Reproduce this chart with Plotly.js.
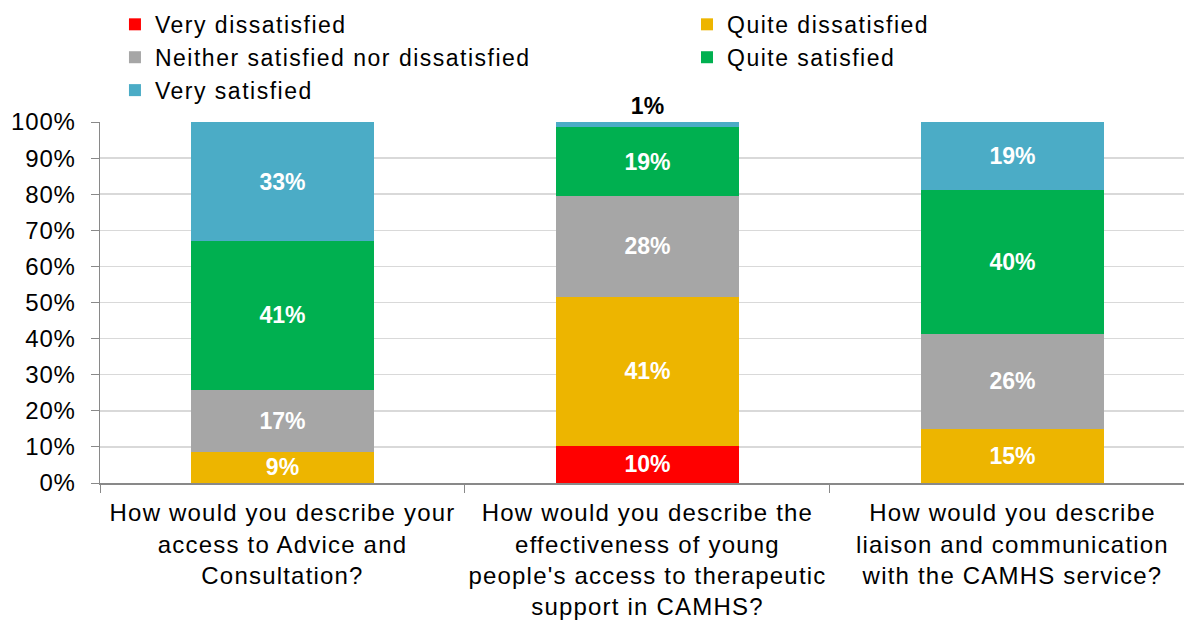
<!DOCTYPE html>
<html>
<head>
<meta charset="utf-8">
<script src="https://cdn.plot.ly/plotly-3.0.1.min.js"></script>
<style>
html,body{margin:0;padding:0;background:#fff;}
#chart{width:1184px;height:620px;}
#chart .xtick text{letter-spacing:1.2px;}
#chart .ytick text{letter-spacing:0.8px;}
#chart .legendtext, #chart .infolayer text{letter-spacing:1.5px;}
#chart g.scrollbox, #chart .infolayer g{clip-path:none !important;}
</style>
</head>
<body>
<div id="chart"></div>
<script>
var categories = [
  "How would you describe your<br>access to Advice and<br>Consultation?",
  "How would you describe the<br>effectiveness of young<br>people's access to therapeutic<br>support in CAMHS?",
  "How would you describe<br>liaison and communication<br>with the CAMHS service?"
];
var veryDissatisfied  = [0, 10.3, 0];
var quiteDissatisfied = [8.6, 41.2, 15.0];
var neither           = [17.3, 28.1, 26.3];
var quiteSatisfied    = [41.1, 18.9, 39.8];
var verySatisfied     = [33.0, 1.4, 18.9];

var seriesNames  = ["Very dissatisfied", "Quite dissatisfied", "Neither satisfied nor dissatisfied", "Quite satisfied", "Very satisfied"];
var seriesValues = [veryDissatisfied, quiteDissatisfied, neither, quiteSatisfied, verySatisfied];
var seriesColors = ["#FF0000", "#EDB500", "#A6A6A6", "#00B050", "#4BACC6"];
var seriesLegend = ["legend", "legend2", "legend", "legend2", "legend"];

var FONT = "Liberation Sans, Arial, sans-serif";

var traces = seriesValues.map(function(vals, i){
  var small = vals.map(function(v){ return v > 0 && v < 5; });
  return {
    type: "bar",
    name: seriesNames[i],
    legend: seriesLegend[i],
    x: categories,
    y: vals,
    marker: {color: seriesColors[i], line: {width: 0}},
    text: vals.map(function(v){ return v > 0 ? Math.round(v) + "%" : ""; }),
    textposition: small.map(function(s){ return s ? "outside" : "inside"; }),
    insidetextanchor: "middle",
    textangle: 0,
    constraintext: "none",
    insidetextfont: {family: FONT, size: 23, color: "#FFFFFF", weight: "bold"},
    outsidetextfont: {family: FONT, size: 23, color: "#000000", weight: "bold"},
    cliponaxis: false,
    hoverinfo: "skip"
  };
});

var legendBase = {
  orientation: "v",
  yanchor: "top",
  y: 1.33,
  xanchor: "left",
  traceorder: "normal",
  bgcolor: "rgba(0,0,0,0)",
  font: {family: FONT, size: 23, color: "#000000"},
  itemclick: false, itemdoubleclick: false
};

var layout = {
  width: 1184, height: 620,
  margin: {l: 100, r: 0, t: 122, b: 137, pad: 0},
  paper_bgcolor: "#FFFFFF",
  plot_bgcolor: "#FFFFFF",
  barmode: "stack",
  bargap: 0.5,
  showlegend: true,
  legend: Object.assign({}, legendBase, {x: 0.0138}),
  legend2: Object.assign({}, legendBase, {x: 0.5415}),
  xaxis: {
    type: "category",
    range: [-0.5, 2.47],
    tickson: "boundaries",
    ticks: "outside",
    ticklen: 8,
    tickcolor: "#898989",
    showline: true,
    linecolor: "#898989",
    linewidth: 1.5,
    showgrid: false,
    tickfont: {family: FONT, size: 24, color: "#000000"},
    ticklabelstandoff: 8
  },
  yaxis: {
    range: [0, 100],
    dtick: 10,
    tick0: 0,
    ticksuffix: "%",
    ticks: "outside",
    ticklen: 8,
    tickcolor: "#898989",
    showline: true,
    linecolor: "#898989",
    linewidth: 1.5,
    showgrid: true,
    gridcolor: "#D9D9D9",
    gridwidth: 1.5,
    zeroline: false,
    tickfont: {family: FONT, size: 24, color: "#000000"},
    ticklabelstandoff: 10
  }
};

Plotly.newPlot("chart", traces, layout, {displayModeBar: false, staticPlot: true});
</script>
</body>
</html>
